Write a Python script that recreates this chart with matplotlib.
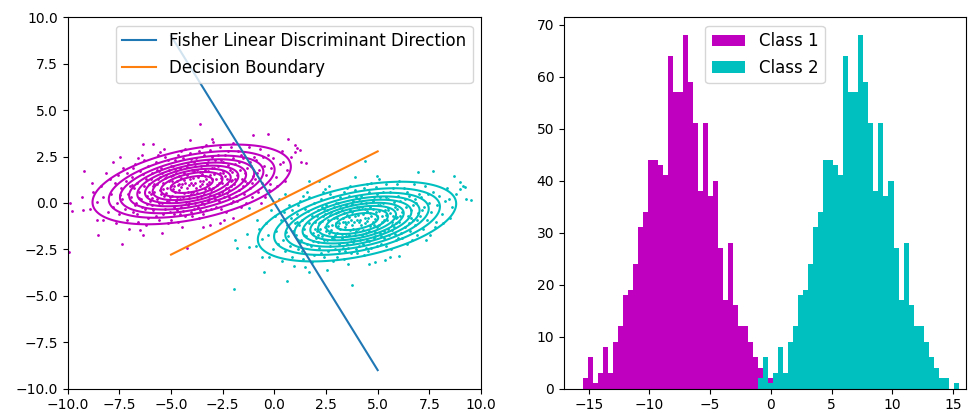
import numpy as np
import matplotlib
matplotlib.use('Agg')
from matplotlib import pyplot as plt


# class 1 samples; class 2 is the same cloud shifted
pts1 = [
    (-9.89, 0.02), (-9.8, -0.43), (-9.94, -2.64), (-9.21, 1.74), (-9.32, 0.34), (-9.24, -0.38),
    (-8.84, 1.09), (-8.76, 0.61), (-8.6, 0.07), (-8.52, -1.72), (-8.28, -0.92), (-8.9, -0.3),
    (-8.4, 0.9), (-8.15, 1.6), (-8.3, 0.3), (-8.05, -0.5), (-8.6, -0.9),
    (-7.79, 2.23), (-7.47, 2.49), (-7.39, -2.21), (-7.15, -0.92), (-7.9, 0.5), (-7.8, -0.2),
    (-7.7, 1.1), (-7.6, 0.0), (-7.55, 1.5), (-7.5, -0.6), (-7.4, 0.8), (-7.35, 0.2), (-7.3, 1.9),
    (-7.25, -0.3), (-7.2, 1.2), (-7.1, 0.5), (-7.05, -1.4), (-7.0, 0.9), (-7.95, 1.3),
    (-7.65, -1.1), (-7.45, 0.45), (-7.15, 1.6),
    (-6.95, 0.3), (-6.9, 1.4), (-6.85, -0.5), (-6.8, 0.8), (-6.75, 2.1), (-6.7, 0.0), (-6.65, 1.1),
    (-6.6, -1.0), (-6.55, 0.6), (-6.5, -1.45), (-6.5, 1.7), (-6.45, 0.2), (-6.4, 2.6), (-6.34, 3.16),
    (-6.34, -1.72), (-6.3, 0.9), (-6.25, -0.3), (-6.2, 1.3), (-6.15, 0.4), (-6.1, 2.0), (-6.1, -0.8),
    (-6.05, 1.0), (-6.0, 0.1), (-6.9, 0.95), (-6.6, 2.4), (-6.4, -0.2), (-6.2, -1.2), (-6.75, -0.1),
    (-6.35, 1.55), (-6.05, 0.6), (-6.85, 1.9), (-6.15, -0.05), (-6.55, 0.25), (-6.3, 2.3), (-6.65, -0.6),
    (-5.95, 0.5), (-5.9, 1.6), (-5.86, 3.16), (-5.85, -0.4), (-5.8, 1.0), (-5.75, 2.2), (-5.7, 0.2),
    (-5.65, 1.3), (-5.6, -0.9), (-5.55, 0.7), (-5.53, 2.76), (-5.5, 1.9), (-5.45, -1.63), (-5.45, 0.0),
    (-5.4, 1.1), (-5.35, 0.4), (-5.3, 2.5), (-5.3, -0.3), (-5.25, 1.5), (-5.2, 0.8), (-5.15, -1.1),
    (-5.1, 1.2), (-5.05, 0.3), (-5.0, 2.0), (-5.95, 1.3), (-5.9, -0.1), (-5.8, 0.6), (-5.7, 1.8),
    (-5.6, 0.0), (-5.55, 1.4), (-5.4, -0.6), (-5.35, 2.9), (-5.2, 0.1), (-5.1, 1.8), (-5.05, -0.5),
    (-5.85, 0.9), (-5.75, -0.7), (-5.65, 2.6), (-5.5, 0.5), (-5.45, 1.6), (-5.25, 0.55), (-5.15, 2.3),
    (-5.0, 0.9), (-5.9, 0.25), (-5.7, 1.05), (-5.6, 1.7), (-5.4, 0.75), (-5.3, 1.35), (-5.1, 0.05),
    (-5.02, 1.45),
    (-4.95, 0.4), (-4.9, 1.5), (-4.88, -0.6), (-4.85, 0.9), (-4.8, 2.3), (-4.75, 0.1), (-4.7, 1.2),
    (-4.65, -1.0), (-4.6, 0.7), (-4.55, 1.9), (-4.5, -0.2), (-4.5, 2.8), (-4.45, 1.0), (-4.4, 0.3),
    (-4.35, 1.6), (-4.3, -0.7), (-4.25, 0.8), (-4.24, -2.41), (-4.2, 2.1), (-4.15, 0.0), (-4.1, 1.3),
    (-4.08, 3.39), (-4.05, 0.5), (-4.0, 1.8), (-4.95, 1.2), (-4.9, 2.0), (-4.85, -0.2), (-4.8, 0.6),
    (-4.75, 1.6), (-4.7, -0.4), (-4.65, 2.6), (-4.6, 1.0), (-4.55, 0.2), (-4.5, 1.35), (-4.45, -1.3),
    (-4.4, 2.4), (-4.35, 0.55), (-4.3, 1.1), (-4.25, 1.95), (-4.2, -0.1), (-4.15, 0.95), (-4.1, 2.7),
    (-4.05, -0.5), (-4.02, 1.1), (-4.92, 0.75), (-4.82, 1.85), (-4.72, 0.35), (-4.62, 1.45),
    (-4.52, 0.85), (-4.42, -0.45), (-4.32, 2.9), (-4.22, 1.5), (-4.12, 0.25), (-4.03, 2.35),
    (-4.98, -0.9), (-4.58, -0.6), (-4.38, 1.25), (-4.18, 0.6), (-4.68, 0.95), (-4.28, 0.05),
    (-3.95, 0.6), (-3.9, 1.7), (-3.88, -0.3), (-3.85, 1.1), (-3.8, 2.4), (-3.75, 0.3), (-3.7, 1.4),
    (-3.65, -0.8), (-3.6, 0.9), (-3.6, 4.25), (-3.55, 2.0), (-3.5, 0.0), (-3.5, 3.0), (-3.45, 1.2),
    (-3.44, -1.27), (-3.4, 0.5), (-3.35, 1.8), (-3.3, -0.4), (-3.25, 1.0), (-3.2, 2.3), (-3.15, 0.2),
    (-3.11, -1.19), (-3.1, 1.5), (-3.05, 0.7), (-3.03, 3.43), (-3.0, 1.9), (-3.95, 1.35), (-3.9, 2.2),
    (-3.85, 0.0), (-3.8, 0.8), (-3.75, 1.8), (-3.7, -0.2), (-3.65, 2.8), (-3.6, 1.2), (-3.55, 0.4),
    (-3.5, 1.55), (-3.45, -0.6), (-3.4, 2.6), (-3.35, 0.75), (-3.3, 1.3), (-3.25, 2.1), (-3.2, 0.1),
    (-3.15, 1.15), (-3.1, 2.85), (-3.05, -0.3), (-3.02, 1.3), (-3.92, 0.95), (-3.82, 2.0),
    (-3.72, 0.55), (-3.62, 1.65), (-3.52, 1.05), (-3.42, -0.05), (-3.32, 3.1), (-3.22, 1.7),
    (-3.12, 0.45), (-3.03, 2.5), (-3.98, -0.7), (-3.58, -0.4), (-3.38, 1.45), (-3.18, 0.8),
    (-2.95, 3.3), (-2.95, 0.8), (-2.9, 1.9), (-2.85, 0.2), (-2.8, 1.3), (-2.75, 2.6), (-2.7, 0.5),
    (-2.65, 1.6), (-2.63, -1.09), (-2.6, -0.3), (-2.55, 1.1), (-2.5, 2.2), (-2.45, 0.3), (-2.4, 1.45),
    (-2.35, -0.5), (-2.3, 1.0), (-2.25, 2.8), (-2.2, 0.7), (-2.15, 1.8), (-2.1, 0.0), (-2.05, 1.25),
    (-2.0, 2.4), (-2.92, 1.55), (-2.88, 2.3), (-2.82, -0.2), (-2.78, 0.95), (-2.72, 2.0), (-2.68, 0.1),
    (-2.62, 3.0), (-2.58, 1.35), (-2.52, 0.6), (-2.48, 1.75), (-2.42, -0.9), (-2.38, 2.6), (-2.32, 0.8),
    (-2.28, 1.3), (-2.22, 2.05), (-2.18, 0.35), (-2.12, 1.2), (-2.08, 3.0), (-2.02, 0.1), (-2.05, 1.65),
    (-2.9, 0.4), (-2.7, 1.1), (-2.5, 1.6), (-2.3, 0.55), (-2.1, 0.9), (-2.6, 2.3),
    (-1.99, 3.21), (-1.99, -0.83), (-1.95, 1.0), (-1.9, 2.1), (-1.85, 0.4), (-1.8, 1.5), (-1.75, 2.8),
    (-1.7, 0.7), (-1.65, 1.8), (-1.6, -0.2), (-1.55, 1.3), (-1.5, 2.4), (-1.45, 0.5), (-1.4, 1.6),
    (-1.35, 0.0), (-1.3, 1.1), (-1.25, 3.0), (-1.2, 0.8), (-1.15, 2.0), (-1.1, 0.3), (-1.05, 1.45),
    (-1.05, 3.68), (-1.0, 2.5), (-1.9, 1.3), (-1.7, 2.2), (-1.5, 0.9), (-1.3, 1.9), (-1.1, 1.1),
    (-1.8, 0.1), (-1.6, 2.6), (-1.4, 1.2), (-1.2, 2.2),
    (-0.95, 1.3), (-0.9, 2.3), (-0.8, 0.6), (-0.75, 1.8), (-0.7, 2.9), (-0.6, 1.1), (-0.5, 2.0),
    (-0.45, 0.3), (-0.4, 1.5), (-0.32, 3.73), (-0.3, 2.6), (-0.2, 1.0), (-0.15, 1.9), (-0.05, 2.4),
    (-0.85, 1.6), (-0.55, 2.5), (-0.25, 0.7), (-0.65, 0.0),
    (0.1, 1.4), (0.25, 2.1), (0.43, 2.23), (0.6, 1.78), (0.68, 3.45), (0.35, 2.8), (0.8, 2.5),
    (0.15, 0.9), (0.5, 1.2),
    (1.0, 3.12), (1.11, 2.94), (1.24, 2.85), (1.0, 2.76), (1.27, 2.23), (1.51, 2.14),
]
shift2 = (8.0, -2.0)

# gaussian parameters for the contour rings
mean1 = (-4.0, 1.0)
mean2 = (4.0, -1.0)
cov = [[5.0, 1.0], [1.0, 1.0]]
level_frac = [0.1, 0.2, 0.3, 0.4, 0.5, 0.6, 0.7, 0.8, 0.9]

fisher_x = [-5, 5]
fisher_y = [9, -9]
bound_x = [-5, 5]
bound_y = [-2.78, 2.78]

# histogram of the projections (both classes have the same shape)
counts = [2, 6, 1, 3, 8, 3, 9, 12, 18, 19,
          24, 31, 34, 44, 44, 43, 41, 64, 57, 57,
          68, 59, 51, 38, 51, 37, 40, 27, 17, 28,
          16, 12, 12, 9, 6, 4, 2, 2, 0, 1]
bin_w = 0.4127
start1 = -15.49
start2 = -1.05


def gauss(X, Y, m):
    inv = np.linalg.inv(np.array(cov))
    dx, dy = X - m[0], Y - m[1]
    q = inv[0, 0] * dx * dx + 2 * inv[0, 1] * dx * dy + inv[1, 1] * dy * dy
    return np.exp(-q / 2)


p1 = np.array(pts1)
p2 = p1 + np.array(shift2)

fig = plt.figure(figsize=(9.69, 4.13), dpi=100)
ax1 = fig.add_axes([67.7 / 969, 1 - 388.7 / 413, 413.3 / 969, 371.4 / 413])
ax2 = fig.add_axes([564 / 969, 1 - 388.7 / 413, 402 / 969, 371.4 / 413])

ax1.scatter(p1[:, 0], p1[:, 1], s=1, c='m')
ax1.scatter(p2[:, 0], p2[:, 1], s=1, c='c')

gx, gy = np.meshgrid(np.linspace(-12, 12, 300), np.linspace(-8, 8, 300))
ax1.contour(gx, gy, gauss(gx, gy, mean1), levels=level_frac, colors='m', linewidths=1.5)
ax1.contour(gx, gy, gauss(gx, gy, mean2), levels=level_frac, colors='c', linewidths=1.5)

ax1.plot(fisher_x, fisher_y, label='Fisher Linear Discriminant Direction')
ax1.plot(bound_x, bound_y, label='Decision Boundary')
ax1.set_xlim(-10, 10)
ax1.set_ylim(-10, 10)
ax1.legend(loc='upper right', fontsize=12)

edges1 = start1 + bin_w * np.arange(len(counts) + 1)
edges2 = start2 + bin_w * np.arange(len(counts) + 1)
ax2.hist(edges1[:-1], bins=edges1, weights=counts, color='m', label='Class 1')
ax2.hist(edges2[:-1], bins=edges2, weights=counts, color='c', label='Class 2')
ax2.set_xlim(-17.03, 16.06)
ax2.legend(loc='upper center', fontsize=12)

fig.savefig('out.png', dpi=100)
